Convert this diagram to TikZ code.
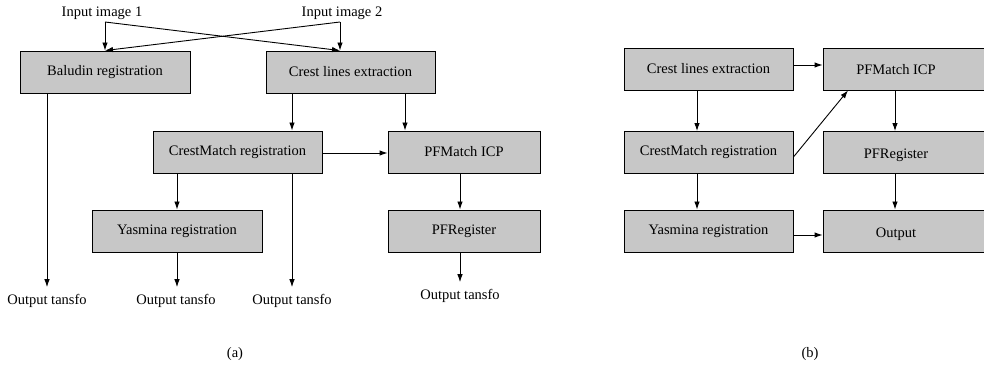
\documentclass[tikz,border=0pt]{standalone}
\usepackage{fontspec}
\setmainfont{Liberation Serif}
\usetikzlibrary{arrows.meta}
\begin{document}
\begin{tikzpicture}[x=1pt,y=-1pt,
  font=\fontsize{14.5}{17}\selectfont,
  blk/.style={draw=black, line width=0.9pt, fill=black!22, inner sep=0pt,
              minimum height=42pt},
  lbl/.style={inner sep=0pt},
  arr/.style={line width=0.9pt, -{Latex[length=8pt,width=5.5pt]}},
  gap/.style={yshift=7pt}]
\useasboundingbox (0,0) rectangle (984,379);
\clip (0,0) rectangle (984,379);
\fill[white] (0,0) rectangle (984,379);

% ---------------- panel (a) ----------------
\node[lbl] (in1) at (102,13) {Input image 1};
\node[lbl] (in2) at (342,13) {Input image 2};
\coordinate (j1) at (105,22);
\coordinate (j2) at (340,22);

\node[blk, minimum width=170pt] (bal)   at (105,72)    {Baludin registration};
\node[blk, minimum width=169pt] (crest) at (350.5,72)  {Crest lines extraction};
\node[blk, minimum width=169pt] (cm)    at (237.5,152) {CrestMatch registration};
\node[blk, minimum width=152pt] (pfm)   at (464,152)   {PFMatch ICP};
\node[blk, minimum width=170pt] (yas)   at (177,231)   {Yasmina registration};
\node[blk, minimum width=152pt] (pfr)   at (464,231)   {PFRegister};

\node[lbl] (o1) at (47,301)  {Output tansfo};
\node[lbl] (o2) at (176,301) {Output tansfo};
\node[lbl] (o3) at (292,301) {Output tansfo};
\node[lbl] (o4) at (460,296) {Output tansfo};

% the two inputs feed both first stages
\draw[arr] (j1) -- (bal.north -| j1);
\draw[arr] (j1) -- (crest.north -| j2);
\draw[arr] (j2) -- (crest.north -| j2);
\draw[arr] (j2) -- (bal.north -| j1);

\draw[arr] (bal.south -| o1.north) -- ([gap]o1.north);
\draw[arr] (crest.south -| o3.north) -- (cm.north -| o3.north);
\draw[arr] (crest.south -| 405,0) -- (pfm.north -| 405,0);
\draw[arr] (cm.east |- 0,153) -- (pfm.west |- 0,153);
\draw[arr] (cm.south -| yas.north) -- (yas.north);
\draw[arr] (cm.south -| o3.north) -- ([gap]o3.north);
\draw[arr] (yas.south) -- ([gap]o2.north -| yas.south);
\draw[arr] (pfm.south -| o4.north) -- (pfr.north -| o4.north);
\draw[arr] (pfr.south -| o4.north) -- ([gap]o4.north);

\node[lbl] (capa) at (235,354) {(a)};

% ---------------- panel (b) ----------------
\node[blk, minimum width=169pt] (bc)   at (708.5,69)  {Crest lines extraction};
\node[blk, minimum width=169pt] (bcm)  at (708.5,152.5) {CrestMatch registration};
\node[blk, minimum width=169pt] (by)   at (708.5,231) {Yasmina registration};
\node[blk, minimum width=177pt] (bpf)  at (911.5,69)  {};
\node[blk, minimum width=177pt] (bpr)  at (911.5,152.5) {};
\node[blk, minimum width=177pt] (bout) at (911.5,231) {};
\node[lbl] (bpft) at (896,70)  {PFMatch ICP};
\node[lbl] (bprt) at (896,155) {PFRegister};
\node[lbl] (bott) at (896,234) {Output};

\draw[arr] (bc.south -| 697,0) -- (bcm.north -| 697,0);
\draw[arr] (bcm.south -| 697,0) -- (by.north -| 697,0);
\draw[arr] (bc.east |- 0,65) -- (bpf.west |- 0,65);
\draw[arr] (bcm.east |- 0,157) -- (bpf.south -| 848,0);
\draw[arr] (by.east |- 0,235) -- (bout.west |- 0,235);
\draw[arr] (bpf.south -| 895,0) -- (bpr.north -| 895,0);
\draw[arr] (bpr.south -| 895,0) -- (bout.north -| 895,0);

\node[lbl] (capb) at (810,354) {(b)};
\end{tikzpicture}
\end{document}
